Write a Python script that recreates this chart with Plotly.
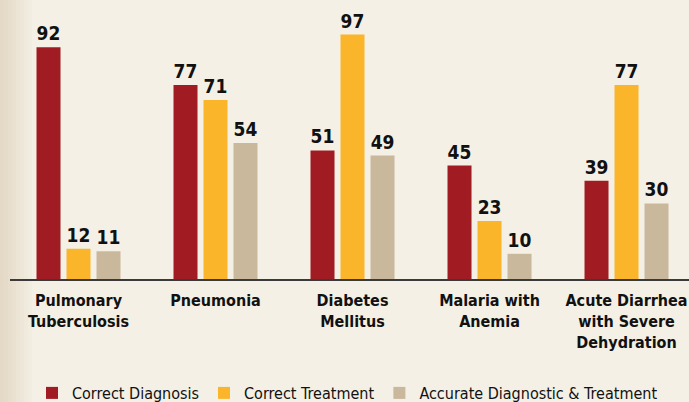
import plotly.graph_objects as go

categories = ["Pulmonary<br>Tuberculosis", "Pneumonia", "Diabetes<br>Mellitus",
              "Malaria with<br>Anemia", "Acute Diarrhea<br>with Severe<br>Dehydration"]
series_names = ["Correct Diagnosis", "Correct Treatment", "Accurate Diagnostic & Treatment"]
correct_diagnosis = [92, 77, 51, 45, 39]
correct_treatment = [12, 71, 97, 23, 77]
accurate_both = [11, 54, 49, 10, 30]
colors = ["#A01C22", "#FBB52B", "#C9B89B"]

FONT = "DejaVu Sans Condensed, Liberation Sans Narrow, sans-serif"
BG = "#F4F0E5"
PW = 679.0   # plot width in px
PH = 279.0   # plot height in px

fig = go.Figure()
for name, vals, col in zip(series_names, [correct_diagnosis, correct_treatment, accurate_both], colors):
    fig.add_trace(go.Bar(
        x=list(range(len(categories))), y=vals, name=name,
        marker=dict(color=col, line=dict(width=0)),
        text=[str(v) for v in vals], textposition="outside",
        textfont=dict(family=FONT, size=19, color="#111111", weight="bold"),
        cliponaxis=False,
    ))

# subtle darker shading at the left edge of the background
for i in range(8):
    w = 4 * (i + 1)
    fig.add_shape(type="rect", xref="paper", yref="paper",
                  x0=-10 / PW, x1=(-10 + w) / PW, y0=-123 / PH, y1=1,
                  layer="below", line=dict(width=0),
                  fillcolor="rgba(150,115,60,0.018)")

fig.update_layout(
    width=689, height=402,
    margin=dict(l=10, r=0, t=0, b=123, autoexpand=False),
    paper_bgcolor=BG, plot_bgcolor="rgba(0,0,0,0)",
    barmode="group", bargap=0.343, bargroupgap=0.2,
    font=dict(family=FONT, color="#111111"),
    showlegend=True,
    legend=dict(orientation="h", x=(32 - 10) / PW, xanchor="left", y=-(393 - 279) / PH,
                yanchor="middle",
                font=dict(family=FONT, size=16, color="#111111"),
                bgcolor="rgba(0,0,0,0)", traceorder="normal", tracegroupgap=0),
    xaxis=dict(
        tickmode="array", tickvals=list(range(len(categories))), ticktext=categories,
        range=[-0.5, 4.456], showgrid=False, zeroline=False, automargin=False,
        showline=True, linecolor="#3a3a3a", linewidth=1.5, layer="above traces",
        ticks="", ticklabeloverflow="allow", ticklabelstandoff=6,
        tickfont=dict(family=FONT, size=16, color="#111111", weight="bold"),
    ),
    yaxis=dict(range=[0, 110.7], visible=False, showgrid=False, zeroline=False),
)

fig.write_html("out.html", config={"displayModeBar": False},
               post_script="document.body.style.margin='0';document.body.style.background='#F4F0E5';")
